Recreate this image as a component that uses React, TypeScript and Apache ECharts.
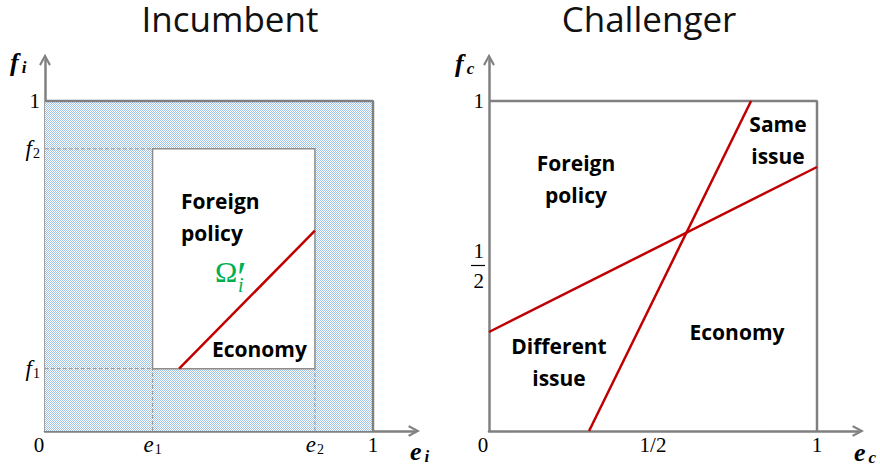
import React, { useEffect, useRef } from 'react';
import * as echarts from 'echarts';

// ---------- data ----------
const AX_MAX = 1.125;
const E1 = 0.328;
const E2 = 0.823;
const F1 = 0.189;
const F2 = 0.855;

const incumbentXTicks = [0, E1, E2, 1];
const incumbentXLabels = ['{z|0}', '{v|e}{s|1}', '{v|e}{s|2}', '{n|1}'];
const incumbentYTicks = [F1, F2, 1];
const incumbentYLabels = ['{v|f}{s|1}', '{v|f}{s|2}', '{n|1}'];

const challengerXTicks = [0, 0.5, 1];
const challengerXLabels = ['{z|0}', '{n|1/2}', '{n|1}'];
const challengerYTicks = [0.5, 1];
const challengerYLabels = ['{fr|1}\n{fr|2}', '{n|1}'];

const unitSquareEdges = [[0, 1], [1, 1], [1, 0]];
const outerRegion = [[0, 0, 1, 1]];
const innerRegion = [[E1, F1, E2, F2]];
const dashedGuides = [
  [[0, F2], [E1, F2]],
  [[0, F1], [E1, F1]],
  [[E1, 0], [E1, F1]],
  [[E2, 0], [E2, F1]],
];
const incumbentBoundary = [[0.409, F1], [E2, 0.607]];
const challengerSteep = [[0.305, 0], [0.799, 1]];
const challengerShallow = [[0, 0.3], [1, 0.8]];

// ---------- style ----------
const SERIF = '"Liberation Serif", "DejaVu Serif", serif';
const SANS = '"Open Sans", Lato, sans-serif';
const GREY = '#808080';
const RED = '#c00000';
const GREEN = '#00b050';
const CHEVRON = 'path://M6,0 L12,11 L10.2,12.3 L6,4.6 L1.8,12.3 L0,11 Z';

const richLabels = {
  n: { fontFamily: SERIF, fontSize: 21, color: '#000', lineHeight: 24 },
  z: { fontFamily: SERIF, fontSize: 21, color: '#000', lineHeight: 24, padding: [0, 12, 0, 0] },
  v: { fontFamily: SERIF, fontStyle: 'italic', fontSize: 23, color: '#000', lineHeight: 22 },
  s: { fontFamily: SERIF, fontSize: 14, color: '#000', lineHeight: 14, padding: [10, 0, 0, 1] },
  fr: { fontFamily: SERIF, fontSize: 21, color: '#000', lineHeight: 30 },
};

function pick(ticks: number[], labels: string[]) {
  return (v: number) => {
    const i = ticks.findIndex((t) => Math.abs(t - v) < 1e-6);
    return i >= 0 ? labels[i] : '';
  };
}

function makeAxis(ticks: number[], labels: string[], isX: boolean, gridIndex: number) {
  return {
    type: 'value',
    gridIndex,
    min: 0,
    max: AX_MAX,
    axisLine: {
      show: true,
      onZero: false,
      symbol: ['none', CHEVRON],
      symbolSize: [13, 12],
      lineStyle: { color: GREY, width: 2.5 },
    },
    axisTick: { show: false },
    splitLine: { show: false },
    axisLabel: {
      show: true,
      customValues: ticks,
      formatter: pick(ticks, labels),
      margin: isX ? 2 : 5,
      hideOverlap: false,
      rich: richLabels,
    },
  };
}

function lineSeries(data: number[][], gi: number, color: string, width: number, type: string = 'solid', z = 5) {
  return {
    type: 'line',
    xAxisIndex: gi,
    yAxisIndex: gi,
    data,
    symbol: 'none',
    showSymbol: false,
    silent: true,
    z,
    lineStyle: { color, width, type },
  };
}

function rectSeries(data: number[][], style: any, z: number) {
  return {
    type: 'custom',
    xAxisIndex: 0,
    yAxisIndex: 0,
    silent: true,
    z,
    encode: { x: [0, 2], y: [1, 3] },
    data,
    renderItem: (_params: any, api: any) => {
      const p0 = api.coord([api.value(0), api.value(1)]);
      const p1 = api.coord([api.value(2), api.value(3)]);
      return {
        type: 'rect',
        shape: {
          x: Math.min(p0[0], p1[0]),
          y: Math.min(p0[1], p1[1]),
          width: Math.abs(p1[0] - p0[0]),
          height: Math.abs(p1[1] - p0[1]),
        },
        style,
      };
    },
  };
}

function makePattern() {
  const c = document.createElement('canvas');
  c.width = 2;
  c.height = 2;
  const ctx = c.getContext('2d')!;
  ctx.fillStyle = '#ffffff';
  ctx.fillRect(0, 0, 2, 2);
  ctx.fillStyle = '#a0c4e8';
  ctx.fillRect(0, 0, 1, 1);
  ctx.fillRect(1, 1, 1, 1);
  return c;
}

const regionText = (text: string, x: number, y: number, align: string) => ({
  type: 'text',
  x,
  y,
  z: 100,
  silent: true,
  style: {
    text,
    fontFamily: SANS,
    fontWeight: 'bold',
    fontSize: 21,
    lineHeight: 32,
    fill: '#000',
    align,
    verticalAlign: 'middle',
  },
});

const axisName = (main: string, sub: string, x: number, y: number) => ({
  type: 'text',
  x,
  y,
  z: 100,
  silent: true,
  style: {
    text: `{b|${main}}{s|${sub}}`,
    verticalAlign: 'middle',
    align: 'left',
    rich: {
      b: { fontFamily: SERIF, fontStyle: 'italic', fontWeight: 'bold', fontSize: 26, lineHeight: 24, fill: '#000' },
      s: { fontFamily: SERIF, fontStyle: 'italic', fontWeight: 'bold', fontSize: 17, lineHeight: 16, padding: [10, 0, 0, 3], fill: '#000' },
    },
  },
});

const titleText = (text: string, x: number) => ({
  type: 'text',
  x,
  y: 18,
  z: 100,
  silent: true,
  style: {
    text,
    fontFamily: SANS,
    fontSize: 35,
    lineHeight: 28,
    fill: '#111',
    align: 'center',
    verticalAlign: 'middle',
  },
});

export default function App() {
  const ref = useRef<HTMLDivElement>(null);
  useEffect(() => {
    if (!ref.current) return;
    const chart = echarts.init(ref.current, undefined, { renderer: 'svg' });
    const pattern = { image: makePattern(), repeat: 'repeat' };

    const gridTop = 431 - 330 * AX_MAX;
    const option: any = {
      animation: false,
      backgroundColor: '#ffffff',
      grid: [
        { left: 45, top: gridTop, width: 328 * AX_MAX, height: 330 * AX_MAX, containLabel: false, outerBoundsMode: 'none' },
        { left: 489, top: gridTop, width: 328 * AX_MAX, height: 330 * AX_MAX, containLabel: false, outerBoundsMode: 'none' },
      ],
      xAxis: [
        makeAxis(incumbentXTicks, incumbentXLabels, true, 0),
        makeAxis(challengerXTicks, challengerXLabels, true, 1),
      ],
      yAxis: [
        makeAxis(incumbentYTicks, incumbentYLabels, false, 0),
        makeAxis(challengerYTicks, challengerYLabels, false, 1),
      ],
      series: [
        rectSeries(outerRegion, { fill: pattern, stroke: 'none' }, 1),
        rectSeries(innerRegion, { fill: '#ffffff', stroke: '#8c8c8c', lineWidth: 1.5 }, 3),
        ...dashedGuides.map((d) => lineSeries(d, 0, '#999999', 1, 'dashed', 2)),
        lineSeries(unitSquareEdges, 0, GREY, 2.5, 'solid', 4),
        lineSeries(incumbentBoundary, 0, RED, 2.5, 'solid', 6),
        lineSeries(unitSquareEdges, 1, GREY, 2.5, 'solid', 4),
        lineSeries(challengerSteep, 1, RED, 2.5, 'solid', 6),
        lineSeries(challengerShallow, 1, RED, 2.5, 'solid', 6),
      ],
      graphic: [
        titleText('Incumbent', 230),
        titleText('Challenger', 649),
        axisName('f', 'i', 10, 62),
        axisName('f', 'c', 455, 63),
        axisName('e', 'i', 410, 451),
        axisName('e', 'c', 854, 452),
        regionText('Foreign\npolicy', 181, 217, 'left'),
        regionText('Economy', 212, 349, 'left'),
        regionText('Foreign\npolicy', 576, 179, 'center'),
        regionText('Same\nissue', 778, 140, 'center'),
        regionText('Economy', 737, 332, 'center'),
        regionText('Different\nissue', 559, 362, 'center'),
        {
          type: 'text', x: 215, y: 271, z: 100, silent: true,
          style: { text: 'Ω', fontFamily: SERIF, fontSize: 30, lineHeight: 20, fill: GREEN, align: 'left', verticalAlign: 'middle' },
        },
        {
          type: 'text', x: 237, y: 277, z: 100, silent: true,
          style: { text: '′', fontFamily: SERIF, fontSize: 44, lineHeight: 10, fill: GREEN, align: 'left', verticalAlign: 'middle' },
        },
        {
          type: 'text', x: 238, y: 285, z: 100, silent: true,
          style: { text: 'i', fontFamily: SERIF, fontStyle: 'italic', fontSize: 20, lineHeight: 12, fill: GREEN, align: 'left', verticalAlign: 'middle' },
        },
        {
          type: 'line', z: 100, silent: true,
          shape: { x1: 471, y1: 265.5, x2: 485, y2: 265.5 },
          style: { stroke: '#000', lineWidth: 1.2 },
        },
      ],
    };
    chart.setOption(option);
    return () => chart.dispose();
  }, []);
  return (
    <div
      ref={ref}
      style={{ position: 'fixed', left: 0, top: 0, width: 880, height: 465, background: '#fff' }}
    />
  );
}
